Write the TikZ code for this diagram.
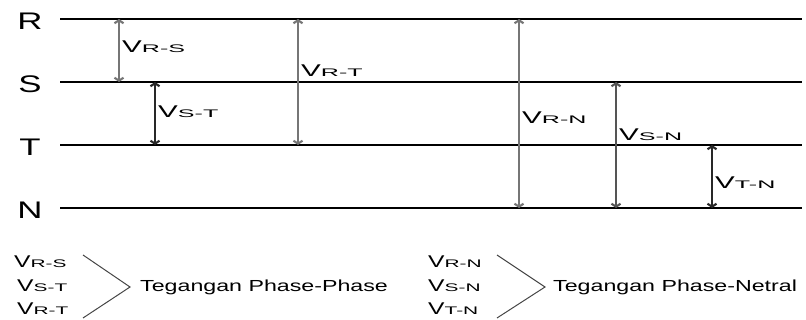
\documentclass[tikz,border=0pt]{standalone}
\usepackage{fontspec}
\setmainfont{Liberation Sans}[FakeStretch=1.45]
\newfontfamily\subfont{Liberation Sans}[FakeStretch=1.9]
\usepackage{xcolor}
\usetikzlibrary{arrows.meta, positioning, calc}
\definecolor{VoltGray}{RGB}{118, 118, 118}
\definecolor{VoltMid}{RGB}{85, 85, 85}
\definecolor{VoltDark}{RGB}{40, 40, 40}
\definecolor{BraceGray}{RGB}{70, 70, 70}
\newcommand{\volt}[1]{{\fontsize{17}{17}\selectfont V}{\subfont\fontsize{11}{11}\selectfont #1}}

\tikzset{
  phaseline/.style={draw=black, line width=2.6pt},
  phaselabel/.style={font=\fontsize{24}{24}\selectfont, inner sep=0pt},
  voltarrow/.style={line width=2.1pt, {Straight Barb[length=3pt,width=9pt]}-{Straight Barb[length=3pt,width=9pt]}},
  voltlabel/.style={anchor=west, inner sep=0pt},
  bracket/.style={draw=BraceGray, line width=1pt},
  groupname/.style={anchor=west, inner sep=0pt, font=\fontsize{16}{16}\selectfont},
}

\begin{document}
\begin{tikzpicture}[x=1pt, y=-1pt]
  \useasboundingbox (0,0) rectangle (806,320);

  % the four conductors
  \foreach \ph/\y in {R/19, S/82, T/145, N/208} {
    \node[phaselabel] (\ph) at (30,\y+2) {\ph};
    \coordinate (\ph-w) at (60,\y);
    \coordinate (\ph-e) at (802,\y);
    \draw[phaseline] (\ph-w) -- (\ph-e);
  }

  % voltages between conductors
  \foreach \x/\a/\b/\c/\lab/\ly in {119/R/S/VoltGray/R-S/47, 155/S/T/VoltDark/S-T/112,
      298/R/T/VoltGray/R-T/71, 519/R/N/VoltGray/R-N/118,
      616/S/N/VoltMid/S-N/135, 712/T/N/VoltDark/T-N/183} {
    \coordinate (v\lab) at (\x,0);
    \draw[voltarrow, draw=\c] (v\lab |- \a-w) -- (v\lab |- \b-w);
    \node[voltlabel, xscale=1.2] (l\lab) at (\x+3,\ly) {\volt{\lab}};
  }

  % legend: phase-phase
  \node[voltlabel] (ppRS) at (14,262) {\volt{R-S}};
  \node[voltlabel] (ppST) at (17,286) {\volt{S-T}};
  \node[voltlabel] (ppRT) at (17,309) {\volt{R-T}};
  \coordinate (pp-a) at (83,255);
  \coordinate (pp-b) at (130,287);
  \coordinate (pp-c) at (83,318);
  \draw[bracket] (pp-a) -- (pp-b) -- (pp-c);
  \node[groupname, right=10pt of pp-b] (pp) {Tegangan Phase-Phase};

  % legend: phase-netral
  \node[voltlabel] (pnRN) at (428,262) {\volt{R-N}};
  \node[voltlabel] (pnSN) at (428,286) {\volt{S-N}};
  \node[voltlabel] (pnTN) at (428,309) {\volt{T-N}};
  \coordinate (pn-a) at (497,255);
  \coordinate (pn-b) at (545,287);
  \coordinate (pn-c) at (497,318);
  \draw[bracket] (pn-a) -- (pn-b) -- (pn-c);
  \node[groupname, right=8pt of pn-b] (pn) {Tegangan Phase-Netral};
\end{tikzpicture}
\end{document}
